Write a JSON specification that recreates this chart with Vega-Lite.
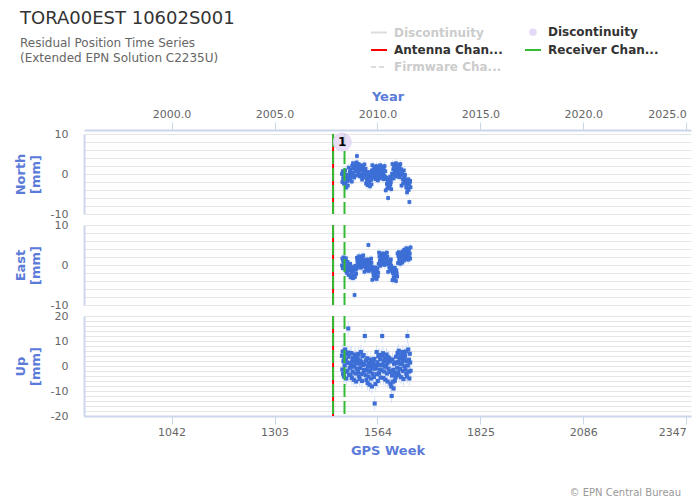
{
  "$schema": "https://vega.github.io/schema/vega-lite/v6.json",
  "autosize": {"type": "none"},
  "padding": {"left": 84, "top": 134, "right": 616, "bottom": 370},
  "background": "white",
  "title": {
    "text": "TORA00EST 10602S001",
    "subtitle": ["Residual Position Time Series", "(Extended EPN Solution C2235U)"],
    "anchor": "start", "frame": "group", "dx": -64, "offset": -41,
    "font": "DejaVu Sans", "fontSize": 18, "fontWeight": "normal", "color": "#333333",
    "subtitleFont": "DejaVu Sans", "subtitleFontSize": 12, "subtitleColor": "#666666",
    "subtitlePadding": 10, "subtitleLineHeight": 15
  },
  "datasets": {
    "obs": [
      {"w":1474,"n":0.0,"e":-0.1,"u":4.1},{"w":1475,"n":-2.0,"e":1.6,"u":-1.4},{"w":1476,"n":0.7,"e":-0.8,"u":5.8},{"w":1477,"n":-1.2,"e":1.0,"u":-3.1},{"w":1478,"n":-0.6,"e":1.9,"u":1.9},
      {"w":1479,"n":-2.4,"e":0.3,"u":-4.2},{"w":1480,"n":0.3,"e":-0.5,"u":3.2},{"w":1481,"n":-1.5,"e":1.3,"u":0.2},{"w":1482,"n":0.9,"e":-1.0,"u":6.6},{"w":1483,"n":-2.5,"e":0.8,"u":-2.3},
      {"w":1484,"n":-1.1,"e":1.7,"u":2.5},{"w":1485,"n":-3.4,"e":-1.6,"u":-5.0},{"w":1486,"n":-0.6,"e":-0.7,"u":4.9},{"w":1487,"n":-0.2,"e":-2.0,"u":1.4},{"w":1488,"n":-1.8,"e":0.8,"u":-1.9},
      {"w":1489,"n":-2.9,"e":-0.2,"u":5.4},{"w":1490,"n":-0.9,"e":-1.2,"u":15},{"w":1491,"n":1.6,"e":-2.5,"u":3.7},{"w":1492,"n":-1.2,"e":0.2,"u":-3.6},{"w":1493,"n":-0.2,"e":-0.6,"u":1.2},
      {"w":1494,"n":0.5,"e":-1.4,"u":-0.7},{"w":1495,"n":-1.5,"e":0.3,"u":5.2},{"w":1496,"n":1.2,"e":-3.1,"u":-3.6},{"w":1497,"n":-0.7,"e":-1.3,"u":0.6},{"w":1498,"n":-0.1,"e":-0.4,"u":5.1},
      {"w":1499,"n":-1.9,"e":-2.0,"u":-4.8},{"w":1500,"n":2.1,"e":-2.8,"u":1.9},{"w":1501,"n":0.3,"e":-1.0,"u":-2.2},{"w":1502,"n":2.7,"e":-3.3,"u":3.3},{"w":1503,"n":0.0,"e":-1.5,"u":-0.3},
      {"w":1504,"n":1.4,"e":-0.6,"u":-5.5},{"w":1505,"n":-0.9,"e":-2.6,"u":2.6},{"w":1506,"n":1.9,"e":-7.5,"u":0.1},{"w":1507,"n":2.3,"e":-3.0,"u":4.6},{"w":1508,"n":0.7,"e":-0.2,"u":-3.0},
      {"w":1509,"n":-0.4,"e":-1.2,"u":1.2},{"w":1510,"n":1.6,"e":-2.2,"u":-6.2},{"w":1511,"n":2.9,"e":-0.9,"u":3.5},{"w":1512,"n":4.5,"e":1.8,"u":-1.1},{"w":1513,"n":1.1,"e":1.0,"u":2.0},
      {"w":1514,"n":1.8,"e":0.2,"u":3.1},{"w":1515,"n":-0.2,"e":1.9,"u":-2.4},{"w":1516,"n":2.5,"e":-0.5,"u":4.8},{"w":1517,"n":0.6,"e":1.3,"u":-4.1},{"w":1518,"n":1.2,"e":2.2,"u":0.9},
      {"w":1519,"n":-0.6,"e":0.6,"u":-5.2},{"w":1520,"n":1.6,"e":-0.2,"u":2.2},{"w":1521,"n":-0.2,"e":1.6,"u":-0.8},{"w":1522,"n":2.2,"e":-0.7,"u":5.6},{"w":1523,"n":-0.5,"e":1.1,"u":-3.3},
      {"w":1524,"n":0.9,"e":2.0,"u":1.5},{"w":1525,"n":-1.4,"e":0.0,"u":-6.0},{"w":1526,"n":1.4,"e":0.9,"u":3.9},{"w":1527,"n":1.8,"e":-0.4,"u":0.4},{"w":1528,"n":0.2,"e":2.4,"u":-2.9},
      {"w":1529,"n":-0.9,"e":1.4,"u":4.4},{"w":1530,"n":1.1,"e":0.4,"u":-1.6},{"w":1531,"n":2.4,"e":-1.7,"u":0.7},{"w":1532,"n":-0.4,"e":1.0,"u":12},{"w":1533,"n":0.6,"e":0.2,"u":-1.8},
      {"w":1534,"n":1.3,"e":-0.6,"u":-3.7},{"w":1535,"n":-2.4,"e":1.1,"u":2.2},{"w":1536,"n":0.3,"e":-1.3,"u":-5.6},{"w":1537,"n":-1.6,"e":0.5,"u":-1.4},{"w":1538,"n":-1.0,"e":1.4,"u":3.1},
      {"w":1539,"n":-2.8,"e":-0.2,"u":-6.8},{"w":1540,"n":-0.1,"e":-1.0,"u":-0.1},{"w":1541,"n":-1.9,"e":5.0,"u":-4.2},{"w":1542,"n":0.5,"e":-1.5,"u":1.3},{"w":1543,"n":-2.2,"e":0.3,"u":-2.3},
      {"w":1544,"n":-0.8,"e":1.2,"u":-7.5},{"w":1545,"n":-3.1,"e":-0.8,"u":0.6},{"w":1546,"n":-0.3,"e":0.1,"u":-1.9},{"w":1547,"n":0.1,"e":-1.2,"u":2.6},{"w":1548,"n":-1.5,"e":1.6,"u":-5.0},
      {"w":1549,"n":-2.6,"e":0.6,"u":-0.8},{"w":1550,"n":0.9,"e":-0.4,"u":-8.2},{"w":1551,"n":2.2,"e":-3.7,"u":1.5},{"w":1552,"n":-0.6,"e":-1.0,"u":-3.1},{"w":1553,"n":0.4,"e":-1.8,"u":0.0},
      {"w":1554,"n":1.1,"e":-2.6,"u":1.1},{"w":1555,"n":-0.9,"e":-0.9,"u":-4.4},{"w":1556,"n":1.8,"e":-3.3,"u":2.8},{"w":1557,"n":-0.1,"e":-1.5,"u":-15},{"w":1558,"n":0.5,"e":-0.6,"u":-1.1},
      {"w":1559,"n":-1.3,"e":-2.2,"u":-7.2},{"w":1560,"n":1.4,"e":-3.0,"u":0.2},{"w":1561,"n":-0.4,"e":-1.2,"u":-0.8},{"w":1562,"n":2.0,"e":-3.5,"u":5.6},{"w":1563,"n":-0.7,"e":-1.7,"u":-3.3},
      {"w":1564,"n":0.7,"e":-0.8,"u":1.5},{"w":1565,"n":-1.6,"e":-2.8,"u":-6.0},{"w":1566,"n":1.2,"e":-1.9,"u":3.9},{"w":1567,"n":1.6,"e":0.3,"u":0.4},{"w":1568,"n":0.0,"e":3.1,"u":-2.9},
      {"w":1569,"n":-1.1,"e":2.1,"u":4.4},{"w":1570,"n":0.9,"e":1.1,"u":-1.6},{"w":1571,"n":2.2,"e":-0.2,"u":2.7},{"w":1572,"n":-0.6,"e":2.5,"u":-4.6},{"w":1573,"n":0.4,"e":1.7,"u":0.2},
      {"w":1574,"n":1.1,"e":0.9,"u":-1.7},{"w":1575,"n":-0.9,"e":2.6,"u":4.2},{"w":1576,"n":1.8,"e":0.2,"u":12},{"w":1577,"n":-0.1,"e":2.0,"u":0.6},{"w":1578,"n":0.5,"e":2.9,"u":5.1},
      {"w":1579,"n":-1.3,"e":1.3,"u":-4.8},{"w":1580,"n":1.4,"e":0.5,"u":1.9},{"w":1581,"n":-0.4,"e":2.3,"u":-2.2},{"w":1582,"n":2.0,"e":0.0,"u":3.3},{"w":1583,"n":-0.7,"e":1.8,"u":-0.3},
      {"w":1584,"n":0.7,"e":2.7,"u":-5.5},{"w":1585,"n":-4.1,"e":0.7,"u":2.6},{"w":1586,"n":-1.3,"e":1.6,"u":0.1},{"w":1587,"n":-0.9,"e":0.3,"u":4.6},{"w":1588,"n":-2.5,"e":3.1,"u":-3.0},
      {"w":1589,"n":-3.6,"e":2.1,"u":1.2},{"w":1590,"n":-1.6,"e":1.1,"u":-6.2},{"w":1591,"n":-6.0,"e":-1.7,"u":3.5},{"w":1592,"n":-3.1,"e":1.0,"u":-1.1},{"w":1593,"n":-2.1,"e":0.2,"u":2.0},
      {"w":1594,"n":-1.4,"e":-0.6,"u":3.1},{"w":1595,"n":-3.4,"e":1.1,"u":-2.4},{"w":1596,"n":-0.7,"e":-1.3,"u":1.8},{"w":1597,"n":-2.6,"e":0.5,"u":-7.1},{"w":1598,"n":-2.0,"e":1.4,"u":-2.1},
      {"w":1599,"n":-3.8,"e":-0.2,"u":-8.2},{"w":1600,"n":-1.1,"e":-1.0,"u":-12},{"w":1601,"n":0.1,"e":-1.5,"u":-3.8},{"w":1602,"n":2.5,"e":-3.8,"u":2.6},{"w":1603,"n":-0.2,"e":-2.0,"u":-6.3},
      {"w":1604,"n":1.2,"e":-1.1,"u":-1.5},{"w":1605,"n":-1.1,"e":-3.1,"u":-9.0},{"w":1606,"n":1.7,"e":-2.2,"u":0.9},{"w":1607,"n":2.1,"e":-3.5,"u":-2.6},{"w":1608,"n":0.5,"e":-0.7,"u":-5.9},
      {"w":1609,"n":-0.6,"e":-1.7,"u":1.4},{"w":1610,"n":1.4,"e":-2.7,"u":-4.6},{"w":1611,"n":2.7,"e":-4.0,"u":3.7},{"w":1612,"n":-0.1,"e":-1.3,"u":-3.6},{"w":1613,"n":0.9,"e":-2.1,"u":1.2},
      {"w":1614,"n":1.6,"e":-2.9,"u":-0.7},{"w":1615,"n":-0.4,"e":2.9,"u":5.2},{"w":1616,"n":2.3,"e":0.5,"u":-2.6},{"w":1617,"n":0.4,"e":2.3,"u":1.6},{"w":1618,"n":1.0,"e":3.2,"u":6.1},
      {"w":1619,"n":-0.8,"e":1.6,"u":-3.8},{"w":1620,"n":1.9,"e":0.8,"u":2.9},{"w":1621,"n":0.1,"e":2.6,"u":-1.2},{"w":1622,"n":2.5,"e":0.3,"u":4.3},{"w":1623,"n":-0.2,"e":2.1,"u":0.7},
      {"w":1624,"n":1.2,"e":3.0,"u":-4.5},{"w":1625,"n":-2.9,"e":1.0,"u":3.6},{"w":1626,"n":-0.1,"e":1.9,"u":1.1},{"w":1627,"n":0.3,"e":0.6,"u":5.6},{"w":1628,"n":-1.3,"e":3.4,"u":-2.0},
      {"w":1629,"n":-2.4,"e":2.4,"u":2.2},{"w":1630,"n":-0.4,"e":1.4,"u":-5.2},{"w":1631,"n":0.9,"e":1.1,"u":4.5},{"w":1632,"n":-1.9,"e":3.8,"u":-0.1},{"w":1633,"n":-0.9,"e":3.0,"u":3.0},
      {"w":1634,"n":-0.2,"e":2.2,"u":4.1},{"w":1635,"n":-2.2,"e":3.9,"u":-1.4},{"w":1636,"n":-1.5,"e":1.5,"u":5.8},{"w":1637,"n":-3.4,"e":3.3,"u":-3.1},{"w":1638,"n":-2.8,"e":4.2,"u":1.9},
      {"w":1639,"n":-4.6,"e":2.6,"u":-4.2},{"w":1640,"n":-1.9,"e":1.8,"u":12},{"w":1641,"n":-3.7,"e":3.6,"u":0.2},{"w":1642,"n":-1.3,"e":1.3,"u":6.6},{"w":1643,"n":-4.0,"e":3.1,"u":-2.3},
      {"w":1644,"n":-2.6,"e":4.0,"u":2.5},{"w":1645,"n":-7.0,"e":2.0,"u":-5.0},{"w":1646,"n":-2.1,"e":2.9,"u":4.9},{"w":1647,"n":-1.7,"e":1.6,"u":1.4},{"w":1648,"n":-3.3,"e":4.4,"u":-1.9}
    ],
    "events": [
      {"w": 1451.5, "t": "ant"},
      {"w": 1451.5, "t": "rec"},
      {"w": 1480.5, "t": "rec"}
    ],
    "disc": [
      {"w": 1474.5, "y": 8, "label": "1", "t": "d2"}
    ]
  },
  "spacing": 11,
  "bounds": "flush",
  "vconcat": [
    {
      "width": 607,
      "height": 80,
      "layer": [
        {
          "data": {"name": "obs"},
          "mark": {"type": "tick", "orient": "vertical", "size": 8, "thickness": 1, "color": "#c2d4f3"},
          "encoding": {
            "x": {"field": "w", "type": "quantitative", "scale": {"domain": [820, 2359], "nice": false, "zero": false},
              "axis": {"orient": "top", "offset": 4, "title": "Year", "values": [1042, 1303, 1564, 1825, 2086, 2347], "tickCount": 100,
                "labelExpr": "format(2000 + (datum.value - 1042) * 5 / 261, '.1f')",
                "tickSize": 8, "labelPadding": 3, "titlePadding": 5, "grid": false,
                "labelAlign": {"condition": {"test": "datum.value == 2347", "value": "right"}, "value": "center"}}},
            "y": {"field": "n", "type": "quantitative", "scale": {"domain": [-10, 10], "nice": false},
              "axis": {"values": [-10, -8, -6, -4, -2, 0, 2, 4, 6, 8, 10], "tickCount": 100, "labelExpr": "datum.value % 10 == 0 ? '' + datum.value : ''",
                "labelOverlap": false, "ticks": false, "labelPadding": 16, "title": ["North", "[mm]"], "titlePadding": 8, "titleLineHeight": 15, "grid": true}}
          }
        },
        {
          "data": {"name": "obs"},
          "mark": {"type": "square", "size": 14, "color": "#3c6ed6", "opacity": 1},
          "encoding": {"x": {"field": "w", "type": "quantitative"}, "y": {"field": "n", "type": "quantitative"}}
        },
        {
          "data": {"name": "events"},
          "transform": [{"filter": "datum.t == 'ant'"}],
          "mark": {"type": "rule", "strokeWidth": 2},
          "encoding": {
            "x": {"field": "w", "type": "quantitative"},
            "color": {"field": "t", "type": "nominal",
              "scale": {"domain": ["d1", "ant", "fw", "d2", "rec"], "range": ["#dddddd", "#ff0000", "#dddddd", "#e6d9f8", "#33bb33"]},
              "legend": {
                "orient": "none", "legendX": 286, "legendY": -111, "columns": 2, "columnPadding": 18, "rowPadding": 2,
                "title": null, "padding": 0, "symbolType": "stroke", "symbolSize": 256, "symbolStrokeWidth": 2,
                "labelFont": "DejaVu Sans", "labelFontSize": 12, "labelFontWeight": "bold", "labelColor": "#333333", "labelLimit": 200, "labelOffset": 6,
                "labelExpr": "datum.value == 'ant' ? 'Antenna Chan...' : datum.value == 'rec' ? 'Receiver Chan...' : datum.value == 'fw' ? 'Firmware Cha...' : 'Discontinuity'",
                "encode": {
                  "symbols": {"update": {
                    "shape": {"signal": "datum.value == 'd2' ? 'circle' : 'stroke'"},
                    "size": {"signal": "datum.value == 'd2' ? 30 : 256"},
                    "fill": {"signal": "datum.value == 'd2' ? '#e3d3f7' : 'transparent'"},
                    "stroke": {"signal": "datum.value == 'ant' ? '#ff0000' : datum.value == 'rec' ? '#33bb33' : datum.value == 'd2' ? 'transparent' : '#dddddd'"},
                    "strokeDash": {"signal": "datum.value == 'fw' ? [5, 3] : []"},
                    "strokeWidth": {"value": 2},
                    "opacity": {"value": 1}
                  }},
                  "labels": {"update": {
                    "fill": {"signal": "datum.value == 'd1' || datum.value == 'fw' ? '#cccccc' : '#333333'"}
                  }}
                }
              }
            }
          }
        },
        {
          "data": {"name": "events"},
          "transform": [{"filter": "datum.t == 'rec'"}],
          "mark": {"type": "rule", "strokeWidth": 2, "strokeDash": [13, 4]},
          "encoding": {
            "x": {"field": "w", "type": "quantitative"},
            "color": {"field": "t", "type": "nominal", "scale": {"domain": ["d1", "ant", "fw", "d2", "rec"], "range": ["#dddddd", "#ff0000", "#dddddd", "#e6d9f8", "#33bb33"]}}
          }
        },
        {
          "data": {"name": "disc"},
          "mark": {"type": "point", "filled": true, "size": 320, "opacity": 0.85, "stroke": "#dccaf3", "strokeWidth": 1},
          "encoding": {
            "x": {"field": "w", "type": "quantitative"},
            "y": {"field": "y", "type": "quantitative"},
            "color": {"field": "t", "type": "nominal", "scale": {"domain": ["d1", "ant", "fw", "d2", "rec"], "range": ["#dddddd", "#ff0000", "#dddddd", "#e6d9f8", "#33bb33"]}}
          }
        },
        {
          "data": {"name": "disc"},
          "mark": {"type": "text", "font": "DejaVu Sans", "fontSize": 12, "fontWeight": "bold", "color": "#000000", "baseline": "middle"},
          "encoding": {
            "x": {"field": "w", "type": "quantitative"},
            "y": {"field": "y", "type": "quantitative"},
            "text": {"field": "label"}
          }
        }
      ]
    },
    {
      "width": 607,
      "height": 80,
      "layer": [
        {
          "data": {"name": "obs"},
          "mark": {"type": "tick", "orient": "vertical", "size": 8, "thickness": 1, "color": "#c2d4f3"},
          "encoding": {
            "x": {"field": "w", "type": "quantitative", "scale": {"domain": [820, 2359], "nice": false, "zero": false}, "axis": null},
            "y": {"field": "e", "type": "quantitative", "scale": {"domain": [-10, 10], "nice": false},
              "axis": {"values": [-10, -8, -6, -4, -2, 0, 2, 4, 6, 8, 10], "tickCount": 100, "labelExpr": "datum.value % 10 == 0 ? '' + datum.value : ''",
                "labelOverlap": false, "ticks": false, "labelPadding": 16, "title": ["East", "[mm]"], "titlePadding": 8, "titleLineHeight": 15, "grid": true}}
          }
        },
        {
          "data": {"name": "obs"},
          "mark": {"type": "square", "size": 14, "color": "#3c6ed6", "opacity": 1},
          "encoding": {"x": {"field": "w", "type": "quantitative"}, "y": {"field": "e", "type": "quantitative"}}
        },
        {
          "data": {"name": "events"},
          "transform": [{"filter": "datum.t == 'ant'"}],
          "mark": {"type": "rule", "strokeWidth": 2},
          "encoding": {
            "x": {"field": "w", "type": "quantitative"},
            "color": {"field": "t", "type": "nominal", "scale": {"domain": ["d1", "ant", "fw", "d2", "rec"], "range": ["#dddddd", "#ff0000", "#dddddd", "#e6d9f8", "#33bb33"]}}
          }
        },
        {
          "data": {"name": "events"},
          "transform": [{"filter": "datum.t == 'rec'"}],
          "mark": {"type": "rule", "strokeWidth": 2, "strokeDash": [13, 4]},
          "encoding": {
            "x": {"field": "w", "type": "quantitative"},
            "color": {"field": "t", "type": "nominal", "scale": {"domain": ["d1", "ant", "fw", "d2", "rec"], "range": ["#dddddd", "#ff0000", "#dddddd", "#e6d9f8", "#33bb33"]}}
          }
        }
      ]
    },
    {
      "width": 607,
      "height": 100,
      "title": {"text": "© EPN Central Bureau", "orient": "bottom", "anchor": "end", "frame": "group", "offset": 31, "dx": -10,
        "font": "DejaVu Sans", "fontSize": 10, "fontWeight": "normal", "color": "#999999"},
      "layer": [
        {
          "data": {"name": "obs"},
          "mark": {"type": "tick", "orient": "vertical", "size": 14, "thickness": 1, "color": "#c2d4f3"},
          "encoding": {
            "x": {"field": "w", "type": "quantitative", "scale": {"domain": [820, 2359], "nice": false, "zero": false},
              "axis": {"orient": "bottom", "title": "GPS Week", "values": [1042, 1303, 1564, 1825, 2086, 2347], "tickCount": 100, "format": "d",
                "tickSize": 8, "labelPadding": 2, "titlePadding": 7, "grid": false,
                "labelAlign": {"condition": {"test": "datum.value == 2347", "value": "right"}, "value": "center"}}},
            "y": {"field": "u", "type": "quantitative", "scale": {"domain": [-20, 20], "nice": false},
              "axis": {"values": [-20, -18, -16, -14, -12, -10, -8, -6, -4, -2, 0, 2, 4, 6, 8, 10, 12, 14, 16, 18, 20], "tickCount": 100, "labelExpr": "datum.value % 10 == 0 ? '' + datum.value : ''",
                "labelOverlap": false, "ticks": false, "labelPadding": 16, "title": ["Up", "[mm]"], "titlePadding": 8, "titleLineHeight": 15, "grid": true}}
          }
        },
        {
          "data": {"name": "obs"},
          "mark": {"type": "square", "size": 17, "color": "#3c6ed6", "opacity": 1},
          "encoding": {"x": {"field": "w", "type": "quantitative"}, "y": {"field": "u", "type": "quantitative"}}
        },
        {
          "data": {"name": "events"},
          "transform": [{"filter": "datum.t == 'ant'"}],
          "mark": {"type": "rule", "strokeWidth": 2},
          "encoding": {
            "x": {"field": "w", "type": "quantitative"},
            "color": {"field": "t", "type": "nominal", "scale": {"domain": ["d1", "ant", "fw", "d2", "rec"], "range": ["#dddddd", "#ff0000", "#dddddd", "#e6d9f8", "#33bb33"]}}
          }
        },
        {
          "data": {"name": "events"},
          "transform": [{"filter": "datum.t == 'rec'"}],
          "mark": {"type": "rule", "strokeWidth": 2, "strokeDash": [13, 4]},
          "encoding": {
            "x": {"field": "w", "type": "quantitative"},
            "color": {"field": "t", "type": "nominal", "scale": {"domain": ["d1", "ant", "fw", "d2", "rec"], "range": ["#dddddd", "#ff0000", "#dddddd", "#e6d9f8", "#33bb33"]}}
          }
        }
      ]
    }
  ],
  "config": {
    "font": "DejaVu Sans",
    "view": {"stroke": null},
    "axis": {
      "labelFont": "DejaVu Sans", "labelColor": "#666666", "labelFontSize": 11, "labelFlush": false,
      "titleFont": "DejaVu Sans", "titleColor": "#5b7bd8", "titleFontSize": 13, "titleFontWeight": "bold",
      "domainColor": "#ccd6eb", "domainWidth": 2, "tickColor": "#ccd6eb", "gridColor": "#e6e6e6"
    }
  }
}
